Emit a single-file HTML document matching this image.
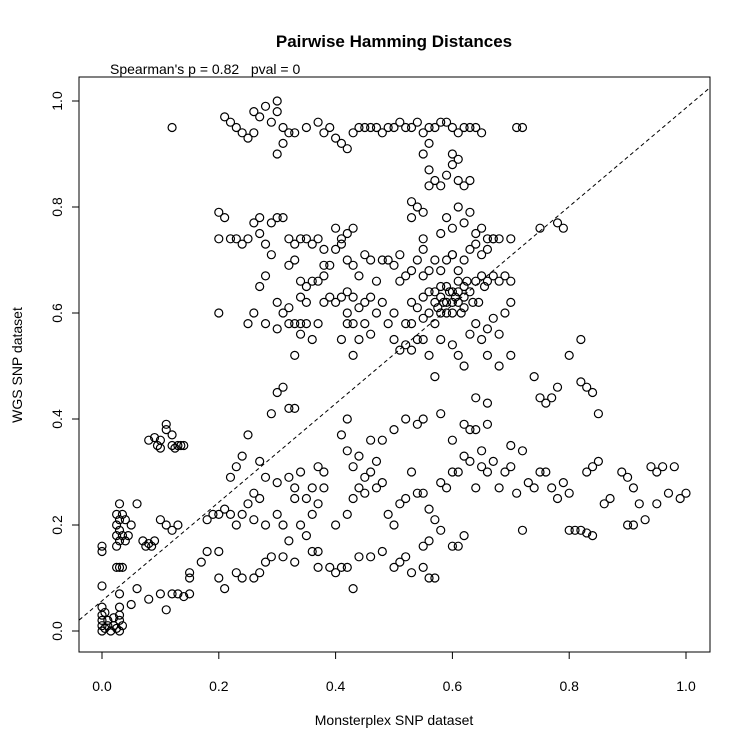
<!DOCTYPE html>
<html><head><meta charset="utf-8"><style>
html,body{margin:0;padding:0;background:#fff;}
svg{display:block;font-family:"Liberation Sans",sans-serif;}
</style></head><body>
<svg id="chart" width="750" height="750" viewBox="0 0 750 750">
<rect x="0" y="0" width="750" height="750" fill="#fff"/>
<text x="394" y="47" text-anchor="middle" font-size="17" font-weight="bold">Pairwise Hamming Distances</text>
<text x="110" y="74" font-size="14" style="white-space:pre" xml:space="preserve">Spearman's p = 0.82   pval = 0</text>
<text x="394" y="725" text-anchor="middle" font-size="14">Monsterplex SNP dataset</text>
<text transform="translate(22,365) rotate(-90)" text-anchor="middle" font-size="14">WGS SNP dataset</text>
<rect x="79" y="77" width="631" height="575" fill="none" stroke="#000" stroke-width="1"/>
<g id="axes"></g>
<g id="pts"></g>
</svg>
<script>
const xTicks=[0,0.2,0.4,0.6,0.8,1.0];
const yTicks=[0,0.2,0.4,0.6,0.8,1.0];
const tickLabels=["0.0","0.2","0.4","0.6","0.8","1.0"];
const fitLine=[0.057,0.93];
const xs=[0,0,0,0,0.005,0.01,0.01,0.015,0.02,0.02,0.025,0.03,0.03,0.03,0.035,0,0.005,0.03,
0,0,0,
0.025,0.03,0.035,0.025,0.03,0.035,0.025,0.03,0.025,0.03,0.035,0.025,0.03,0.04,0.04,0.045,0.06,0.05,
0.07,0.08,0.09,0.075,0.085,
0.08,0.09,0.1,0.095,0.1,0.11,0.11,0.12,0.125,0.13,0.135,0.12,0.14,
0.03,0.05,0.06,0.08,0.1,0.11,0.12,0.13,0.14,0.15,0.15,0.15,0.17,0.18,0.2,0.21,0.23,0.24,0.26,0.27,0.28,0.29,0.31,0.33,0.12,0.13,0.1,0.11,0.18,0.19,0.2,0.2,0.22,0.22,0.23,0.24,0.25,0.26,0.27,0.28,0.27,0.29,0.3,0.31,0.32,0.33,0.25,0.28,0.26,0.24,0.21,0.23,0.3,0.32,0.33,0.35,0.36,0.37,0.38,0.34,0.3,0.31,0.33,0.35,0.36,0.37,0.38,0.32,0.34,
0.36,0.37,0.37,0.39,0.4,0.41,0.42,0.43,0.44,0.46,0.48,0.5,0.51,0.52,0.53,0.55,0.56,0.57,0.55,0.56,0.58,0.6,0.61,0.62,
0.4,0.42,0.43,0.44,0.45,0.46,0.47,0.48,0.49,0.5,0.51,0.52,0.53,0.54,0.55,0.56,0.57,0.58,0.59,0.6,0.61,0.62,0.63,0.64,0.65,0.66,0.67,0.68,0.69,0.7,0.71,0.72,0.73,0.74,0.75,0.76,0.77,0.78,0.79,0.8,0.81,0.82,0.83,0.84,0.85,0.86,0.87,0.89,0.9,0.91,0.92,0.93,0.94,0.95,0.96,0.97,0.98,0.99,1.0,0.84,0.83,0.8,0.9,0.91,0.95,0.7,0.72,0.65,0.62,0.63,0.64,0.66,0.6,0.58,0.55,0.54,0.52,0.5,0.48,0.46,0.44,0.42,0.41,0.42,0.43,0.45,0.47,0.75,0.76,0.77,0.78,0.8,0.82,0.83,0.84,0.85,0.82,0.74,0.7,0.68,0.66,0.64,0.66,
0.4,0.41,0.42,0.43,0.44,0.45,0.46,0.47,0.48,0.49,0.5,0.51,0.52,0.53,0.54,0.55,0.56,0.57,0.58,0.59,0.6,0.61,0.62,0.63,0.64,0.65,0.66,0.67,0.68,0.69,0.7,0.56,0.57,0.58,0.59,0.6,0.61,0.62,0.55,0.54,0.53,0.5,0.49,0.48,0.47,0.46,0.45,0.44,0.43,0.42,0.41,0.5,0.51,0.52,0.53,0.55,0.56,0.57,0.58,0.6,0.61,0.62,0.63,0.64,0.65,0.66,0.67,0.68,0.69,0.7,0.55,0.56,0.57,0.58,0.59,0.6,0.61,0.62,0.63,0.64,0.65,0.66,0.67,0.68,0.54,0.53,0.52,0.51,0.46,0.45,0.44,0.43,0.42,0.41,0.4,0.39,0.38,0.37,0.36,0.35,0.34,0.38,0.39,0.57,0.58,0.59,0.6,0.61,0.62,0.585,0.595,0.575,0.605,0.615,0.625,0.635,0.645,0.655,
0.53,0.54,0.55,0.56,0.57,0.58,0.59,0.6,0.61,0.62,0.63,0.6,0.61,0.56,0.53,0.55,0.58,0.59,0.6,0.61,0.62,0.63,0.64,0.65,0.66,0.67,0.7,0.75,0.78,0.79,0.6,0.55,
0.35,0.37,0.38,0.39,0.4,0.41,0.42,0.43,0.44,0.45,0.46,0.47,0.48,0.49,0.5,0.51,0.52,0.53,0.54,0.55,0.56,0.57,0.58,0.59,0.6,0.61,0.62,0.63,0.64,0.65,0.71,0.72,0.55,0.56,
0.21,0.22,0.23,0.24,0.25,0.26,0.27,0.28,0.29,0.3,0.3,0.31,0.32,0.33,0.31,0.3,0.12,0.26,
0.2,0.21,0.2,0.22,0.23,0.24,0.25,0.26,0.27,0.27,0.28,0.29,0.3,0.31,0.32,0.33,0.34,0.35,0.36,0.37,0.38,0.38,0.32,0.33,0.34,0.35,0.28,0.29,0.27,0.3,0.31,0.32,0.33,0.34,0.35,0.34,0.33,0.26,0.25,0.2,0.28,0.3,0.36,0.37,0.32,0.4,0.41,0.43,0.42,0.42,0.43];
const ys=[0,0.01,0.02,0.03,0.005,0.01,0.02,0,0.01,0.025,0.005,0,0.02,0.03,0.01,0.045,0.035,0.045,
0.085,0.15,0.16,
0.12,0.12,0.12,0.16,0.17,0.18,0.18,0.19,0.2,0.21,0.22,0.22,0.24,0.21,0.17,0.18,0.24,0.2,
0.17,0.165,0.17,0.16,0.16,
0.36,0.365,0.36,0.35,0.345,0.38,0.39,0.35,0.345,0.35,0.35,0.37,0.35,
0.07,0.05,0.08,0.06,0.07,0.04,0.07,0.07,0.065,0.07,0.1,0.11,0.13,0.15,0.1,0.08,0.11,0.1,0.1,0.11,0.13,0.14,0.14,0.13,0.19,0.2,0.21,0.2,0.21,0.22,0.22,0.15,0.22,0.29,0.31,0.33,0.24,0.26,0.32,0.29,0.25,0.41,0.45,0.46,0.42,0.42,0.37,0.2,0.21,0.22,0.23,0.2,0.28,0.29,0.27,0.25,0.27,0.31,0.3,0.3,0.22,0.2,0.25,0.18,0.22,0.24,0.27,0.17,0.2,
0.15,0.15,0.12,0.12,0.11,0.12,0.12,0.08,0.14,0.14,0.15,0.12,0.13,0.14,0.11,0.12,0.1,0.1,0.16,0.17,0.19,0.16,0.16,0.18,
0.2,0.22,0.25,0.27,0.29,0.3,0.32,0.28,0.22,0.2,0.24,0.25,0.3,0.26,0.26,0.23,0.21,0.28,0.27,0.3,0.3,0.33,0.32,0.27,0.31,0.3,0.32,0.27,0.3,0.31,0.26,0.19,0.28,0.27,0.3,0.3,0.27,0.25,0.28,0.26,0.19,0.19,0.3,0.31,0.32,0.24,0.25,0.3,0.29,0.27,0.24,0.21,0.31,0.3,0.31,0.26,0.31,0.25,0.26,0.18,0.185,0.19,0.2,0.2,0.24,0.35,0.34,0.34,0.39,0.38,0.38,0.39,0.36,0.41,0.4,0.39,0.4,0.38,0.36,0.36,0.33,0.34,0.37,0.4,0.31,0.26,0.27,0.44,0.43,0.44,0.46,0.52,0.47,0.46,0.45,0.41,0.55,0.48,0.52,0.5,0.52,0.44,0.43,
0.62,0.63,0.64,0.63,0.61,0.62,0.63,0.66,0.7,0.7,0.69,0.66,0.58,0.58,0.55,0.63,0.64,0.62,0.6,0.62,0.64,0.66,0.65,0.64,0.66,0.67,0.66,0.67,0.66,0.67,0.66,0.6,0.58,0.63,0.65,0.6,0.62,0.61,0.59,0.61,0.62,0.6,0.58,0.62,0.6,0.56,0.58,0.55,0.52,0.58,0.55,0.55,0.53,0.54,0.53,0.55,0.52,0.48,0.55,0.54,0.52,0.5,0.56,0.58,0.55,0.57,0.59,0.56,0.6,0.62,0.67,0.68,0.7,0.68,0.7,0.71,0.68,0.7,0.72,0.73,0.71,0.72,0.74,0.74,0.7,0.68,0.67,0.71,0.7,0.71,0.67,0.69,0.7,0.73,0.72,0.69,0.67,0.66,0.66,0.62,0.63,0.62,0.63,0.64,0.65,0.6,0.62,0.64,0.63,0.62,0.64,0.61,0.63,0.6,0.66,0.62,0.62,0.65,
0.81,0.8,0.79,0.84,0.85,0.84,0.86,0.88,0.85,0.84,0.85,0.9,0.89,0.87,0.78,0.74,0.75,0.78,0.76,0.8,0.77,0.79,0.75,0.76,0.74,0.74,0.74,0.76,0.77,0.76,0.71,0.72,
0.95,0.96,0.94,0.95,0.93,0.92,0.91,0.94,0.95,0.95,0.95,0.95,0.94,0.95,0.95,0.96,0.95,0.95,0.96,0.94,0.95,0.95,0.96,0.96,0.95,0.94,0.95,0.95,0.95,0.94,0.95,0.95,0.9,0.92,
0.97,0.96,0.95,0.94,0.93,0.94,0.97,0.99,0.96,0.98,1.0,0.95,0.94,0.94,0.92,0.9,0.95,0.98,
0.79,0.78,0.74,0.74,0.74,0.73,0.74,0.77,0.78,0.75,0.73,0.77,0.78,0.78,0.74,0.73,0.74,0.74,0.73,0.74,0.69,0.72,0.69,0.7,0.66,0.65,0.67,0.71,0.65,0.62,0.6,0.58,0.58,0.58,0.58,0.56,0.52,0.6,0.58,0.6,0.58,0.57,0.55,0.58,0.61,0.76,0.74,0.76,0.75,0.6,0.58];
const X0=102,XS=584,Y0=631,YS=530;
function sx(v){return X0+v*XS;}
function sy(v){return Y0-v*YS;}
const NS='http://www.w3.org/2000/svg';
const axes=document.getElementById('axes');
const pts=document.getElementById('pts');
function mk(tag,attrs,parent){const e=document.createElementNS(NS,tag);for(const k in attrs)e.setAttribute(k,attrs[k]);parent.appendChild(e);return e;}
xTicks.forEach((t,i)=>{
  const l=mk('line',{x1:sx(t),x2:sx(t),y1:652,y2:659,stroke:'#000'},axes);
  
  
  const tx=mk('text',{x:sx(t),y:691,'text-anchor':'middle','font-size':14},axes);
  tx.textContent=tickLabels[i];
  
  
});
yTicks.forEach((t,i)=>{
  const l=mk('line',{x1:72,x2:79,y1:sy(t),y2:sy(t),stroke:'#000'},axes);
  
  
  const tx=mk('text',{transform:'translate(62,'+sy(t)+') rotate(-90)','text-anchor':'middle','font-size':14},axes);
  tx.textContent=tickLabels[i];
  
  
});
const xa=-0.039,xb=1.041;
const fl=mk('line',{x1:sx(xa),y1:sy(fitLine[0]+fitLine[1]*xa),x2:sx(xb),y2:sy(fitLine[0]+fitLine[1]*xb),stroke:'#000','stroke-dasharray':'4,3','stroke-width':1},axes);


const cp=document.createElementNS(NS,'clipPath');cp.id='clp';
mk('rect',{x:79,y:77,width:631,height:575},cp);
document.getElementById('chart').appendChild(cp);
fl.setAttribute('clip-path','url(#clp)');
for(let i=0;i<Math.min(xs.length,ys.length);i++){
  const c=mk('circle',{cx:sx(xs[i]),cy:sy(ys[i]),r:4,fill:'none',stroke:'#000','stroke-width':1.2},pts);
  
  
}
</script>
</body></html>
